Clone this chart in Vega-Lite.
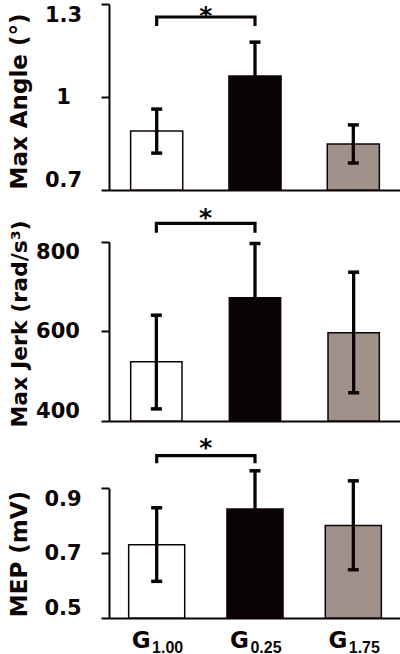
{
  "$schema": "https://vega.github.io/schema/vega-lite/v6.json",
  "autosize": {"type": "pad"},
  "padding": {"left": 7, "top": 0, "right": 0, "bottom": 0},
  "background": "white",
  "spacing": 0,
  "bounds": "flush",
  "config": {
    "view": {"stroke": null},
    "axis": {
      "grid": false,
      "domainColor": "#0d0505",
      "tickColor": "#0d0505",
      "labelColor": "#0d0505",
      "titleColor": "#0d0505",
      "labelFont": "DejaVu Sans",
      "titleFont": "DejaVu Sans",
      "labelFontWeight": "bold",
      "titleFontWeight": "bold"
    }
  },
  "datasets": {
    "angle": [
      {"grp": "1.00", "mean": 0.890, "lo": 0.819, "hi": 0.961},
      {"grp": "0.25", "mean": 1.068, "lo": 0.959, "hi": 1.177},
      {"grp": "1.75", "mean": 0.848, "lo": 0.787, "hi": 0.910}
    ],
    "jerk": [
      {"grp": "1.00", "mean": 532, "lo": 427, "hi": 636},
      {"grp": "0.25", "mean": 675, "lo": 554, "hi": 796},
      {"grp": "1.75", "mean": 597, "lo": 463, "hi": 732}
    ],
    "mep": [
      {"grp": "1.00", "mean": 0.726, "lo": 0.613, "hi": 0.840},
      {"grp": "0.25", "mean": 0.836, "lo": 0.718, "hi": 0.954},
      {"grp": "1.75", "mean": 0.785, "lo": 0.649, "hi": 0.923}
    ],
    "angle_br": [
      {"grp": "1.00", "y": 1.229, "ord": 1},
      {"grp": "1.00", "y": 1.258, "ord": 2},
      {"grp": "0.25", "y": 1.258, "ord": 3},
      {"grp": "0.25", "y": 1.229, "ord": 4}
    ],
    "jerk_br": [
      {"grp": "1.00", "y": 820, "ord": 1},
      {"grp": "1.00", "y": 841, "ord": 2},
      {"grp": "0.25", "y": 841, "ord": 3},
      {"grp": "0.25", "y": 820, "ord": 4}
    ],
    "mep_br": [
      {"grp": "1.00", "y": 0.977, "ord": 1},
      {"grp": "1.00", "y": 1.001, "ord": 2},
      {"grp": "0.25", "y": 1.001, "ord": 3},
      {"grp": "0.25", "y": 0.977, "ord": 4}
    ],
    "angle_star": [{"grp": "1.00", "y": 1.300, "label": "*"}],
    "jerk_star": [{"grp": "1.00", "y": 880, "label": "*"}],
    "mep_star": [{"grp": "1.00", "y": 1.060, "label": "*"}]
  },
  "vconcat": [
    {
      "width": 292,
      "height": 190,
      "layer": [
        {
          "data": {"name": "angle"},
          "mark": {"type": "bar", "stroke": "#0d0505", "strokeWidth": 1.5},
          "encoding": {
            "x": {"field": "grp", "type": "nominal", "scale": {"domain": ["1.00", "0.25", "1.75"], "paddingInner": 0.47, "paddingOuter": 0.22},
                  "axis": {"labels": false, "ticks": false, "title": null, "domainWidth": 2}},
            "y": {"field": "mean", "type": "quantitative", "scale": {"domain": [0.7, 1.3], "range": [190, 4], "nice": false, "zero": false},
                  "axis": {"title": "Max Angle (°)", "values": [0.7, 1, 1.3], "format": "~g", "labelFlush": true, "labelAlign": "center", "labelPadding": 38, "labelFontSize": 21, "labelOverlap": false, "tickSize": 8, "tickWidth": 2, "domainWidth": 2, "titleFontSize": 23, "titleX": -83, "titleY": 101, "titleBaseline": "alphabetic", "titleAngle": -90, "titleAlign": "center"}},
            "y2": {"datum": 0.7},
            "color": {"field": "grp", "type": "nominal", "scale": {"domain": ["1.00", "0.25", "1.75"], "range": ["#ffffff", "#0a0303", "#a0918a"]}, "legend": null}
          }
        },
        {
          "data": {"name": "angle"},
          "mark": {"type": "rule", "strokeWidth": 3.3, "color": "#0a0303"},
          "encoding": {
            "x": {"field": "grp", "type": "nominal", "scale": {"domain": ["1.00", "0.25", "1.75"], "paddingInner": 0.47, "paddingOuter": 0.22}},
            "y": {"field": "lo", "type": "quantitative", "scale": {"domain": [0.7, 1.3], "range": [190, 4], "nice": false, "zero": false}},
            "y2": {"field": "hi"}
          }
        },
        {
          "data": {"name": "angle"},
          "mark": {"type": "tick", "thickness": 3.5, "size": 11, "color": "#0a0303", "opacity": 1},
          "encoding": {
            "x": {"field": "grp", "type": "nominal", "scale": {"domain": ["1.00", "0.25", "1.75"], "paddingInner": 0.47, "paddingOuter": 0.22}},
            "y": {"field": "hi", "type": "quantitative", "scale": {"domain": [0.7, 1.3], "range": [190, 4], "nice": false, "zero": false}}
          }
        },
        {
          "data": {"name": "angle"},
          "mark": {"type": "tick", "thickness": 3.5, "size": 11, "color": "#0a0303", "opacity": 1},
          "encoding": {
            "x": {"field": "grp", "type": "nominal", "scale": {"domain": ["1.00", "0.25", "1.75"], "paddingInner": 0.47, "paddingOuter": 0.22}},
            "y": {"field": "lo", "type": "quantitative", "scale": {"domain": [0.7, 1.3], "range": [190, 4], "nice": false, "zero": false}}
          }
        },
        {
          "data": {"name": "angle_br"},
          "mark": {"type": "line", "strokeWidth": 3.2, "color": "#0a0303", "strokeJoin": "miter", "strokeCap": "butt"},
          "encoding": {
            "x": {"field": "grp", "type": "nominal", "scale": {"domain": ["1.00", "0.25", "1.75"], "paddingInner": 0.47, "paddingOuter": 0.22}},
            "y": {"field": "y", "type": "quantitative", "scale": {"domain": [0.7, 1.3], "range": [190, 4], "nice": false, "zero": false}},
            "order": {"field": "ord", "type": "quantitative"}
          }
        },
        {
          "data": {"name": "angle_star"},
          "mark": {"type": "text", "align": "center", "baseline": "top", "font": "DejaVu Sans", "fontWeight": "bold", "fontSize": 25, "color": "#0a0303"},
          "encoding": {
            "x": {"field": "grp", "type": "nominal", "bandPosition": 1.443, "scale": {"domain": ["1.00", "0.25", "1.75"], "paddingInner": 0.47, "paddingOuter": 0.22}},
            "y": {"field": "y", "type": "quantitative", "scale": {"domain": [0.7, 1.3], "range": [190, 4], "nice": false, "zero": false}},
            "text": {"field": "label"}
          }
        }
      ]
    },
    {
      "width": 292,
      "height": 231,
      "layer": [
        {
          "data": {"name": "jerk"},
          "mark": {"type": "bar", "stroke": "#0d0505", "strokeWidth": 1.5},
          "encoding": {
            "x": {"field": "grp", "type": "nominal", "scale": {"domain": ["1.00", "0.25", "1.75"], "paddingInner": 0.48, "paddingOuter": 0.22},
                  "axis": {"labels": false, "ticks": false, "title": null, "domainWidth": 2}},
            "y": {"field": "mean", "type": "quantitative", "scale": {"domain": [400, 800], "range": [231, 51.7], "nice": false, "zero": false},
                  "axis": {"title": "Max Jerk (rad/s³)", "values": [400, 600, 800], "format": "d", "labelFlush": true, "labelAlign": "center", "labelPadding": 43.5, "labelFontSize": 21, "labelOverlap": false, "tickSize": 8, "tickWidth": 2, "domainWidth": 2, "titleFontSize": 22, "titleX": -83, "titleY": 133.5, "titleBaseline": "alphabetic", "titleAngle": -90, "titleAlign": "center"}},
            "y2": {"datum": 400},
            "color": {"field": "grp", "type": "nominal", "scale": {"domain": ["1.00", "0.25", "1.75"], "range": ["#ffffff", "#0a0303", "#a0918a"]}, "legend": null}
          }
        },
        {
          "data": {"name": "jerk"},
          "mark": {"type": "rule", "strokeWidth": 3.3, "color": "#0a0303"},
          "encoding": {
            "x": {"field": "grp", "type": "nominal", "scale": {"domain": ["1.00", "0.25", "1.75"], "paddingInner": 0.48, "paddingOuter": 0.22}},
            "y": {"field": "lo", "type": "quantitative", "scale": {"domain": [400, 800], "range": [231, 51.7], "nice": false, "zero": false}},
            "y2": {"field": "hi"}
          }
        },
        {
          "data": {"name": "jerk"},
          "mark": {"type": "tick", "thickness": 3.5, "size": 11, "color": "#0a0303", "opacity": 1},
          "encoding": {
            "x": {"field": "grp", "type": "nominal", "scale": {"domain": ["1.00", "0.25", "1.75"], "paddingInner": 0.48, "paddingOuter": 0.22}},
            "y": {"field": "hi", "type": "quantitative", "scale": {"domain": [400, 800], "range": [231, 51.7], "nice": false, "zero": false}}
          }
        },
        {
          "data": {"name": "jerk"},
          "mark": {"type": "tick", "thickness": 3.5, "size": 11, "color": "#0a0303", "opacity": 1},
          "encoding": {
            "x": {"field": "grp", "type": "nominal", "scale": {"domain": ["1.00", "0.25", "1.75"], "paddingInner": 0.48, "paddingOuter": 0.22}},
            "y": {"field": "lo", "type": "quantitative", "scale": {"domain": [400, 800], "range": [231, 51.7], "nice": false, "zero": false}}
          }
        },
        {
          "data": {"name": "jerk_br"},
          "mark": {"type": "line", "strokeWidth": 3.2, "color": "#0a0303", "strokeJoin": "miter", "strokeCap": "butt"},
          "encoding": {
            "x": {"field": "grp", "type": "nominal", "scale": {"domain": ["1.00", "0.25", "1.75"], "paddingInner": 0.48, "paddingOuter": 0.22}},
            "y": {"field": "y", "type": "quantitative", "scale": {"domain": [400, 800], "range": [231, 51.7], "nice": false, "zero": false}},
            "order": {"field": "ord", "type": "quantitative"}
          }
        },
        {
          "data": {"name": "jerk_star"},
          "mark": {"type": "text", "align": "center", "baseline": "top", "font": "DejaVu Sans", "fontWeight": "bold", "fontSize": 25, "color": "#0a0303"},
          "encoding": {
            "x": {"field": "grp", "type": "nominal", "bandPosition": 1.461, "scale": {"domain": ["1.00", "0.25", "1.75"], "paddingInner": 0.48, "paddingOuter": 0.22}},
            "y": {"field": "y", "type": "quantitative", "scale": {"domain": [400, 800], "range": [231, 51.7], "nice": false, "zero": false}},
            "text": {"field": "label"}
          }
        }
      ]
    },
    {
      "width": 292,
      "height": 197,
      "resolve": {"axis": {"x": "independent"}},
      "layer": [
        {
          "data": {"name": "mep"},
          "mark": {"type": "bar", "stroke": "#0d0505", "strokeWidth": 1.5},
          "encoding": {
            "x": {"field": "grp", "type": "nominal", "scale": {"domain": ["1.00", "0.25", "1.75"], "paddingInner": 0.43, "paddingOuter": 0.2},
                  "axis": {"orient": "bottom", "labelExpr": "'G'", "labelFontSize": 23, "labelOffset": -15.5, "labelPadding": 29, "labelBaseline": "alphabetic", "ticks": false, "tickSize": 0, "labelAngle": 0, "title": null, "domainWidth": 2, "labelOverlap": false}},
            "y": {"field": "mean", "type": "quantitative", "scale": {"domain": [0.5, 0.9], "range": [197, 67.3], "nice": false, "zero": false},
                  "axis": {"title": "MEP (mV)", "values": [0.5, 0.7, 0.9], "format": "~g", "labelFlush": true, "labelAlign": "center", "labelPadding": 38.5, "labelFontSize": 21, "labelOverlap": false, "tickSize": 8, "tickWidth": 2, "domainWidth": 2, "titleFontSize": 23, "titleX": -83, "titleY": 132.5, "titleBaseline": "alphabetic", "titleAngle": -90, "titleAlign": "center"}},
            "y2": {"datum": 0.5},
            "color": {"field": "grp", "type": "nominal", "scale": {"domain": ["1.00", "0.25", "1.75"], "range": ["#ffffff", "#0a0303", "#a0918a"]}, "legend": null}
          }
        },
        {
          "data": {"name": "mep"},
          "mark": {"type": "rule", "strokeWidth": 3.3, "color": "#0a0303"},
          "encoding": {
            "x": {"field": "grp", "type": "nominal", "scale": {"domain": ["1.00", "0.25", "1.75"], "paddingInner": 0.43, "paddingOuter": 0.2},
                  "axis": {"orient": "bottom", "labelFont": "Liberation Sans", "labelFontSize": 16, "labelOffset": 11, "labelPadding": 34, "labelBaseline": "alphabetic", "ticks": false, "tickSize": 0, "domain": false, "labelAngle": 0, "title": null, "labelOverlap": false}},
            "y": {"field": "lo", "type": "quantitative", "scale": {"domain": [0.5, 0.9], "range": [197, 67.3], "nice": false, "zero": false}},
            "y2": {"field": "hi"}
          }
        },
        {
          "data": {"name": "mep"},
          "mark": {"type": "tick", "thickness": 3.5, "size": 11, "color": "#0a0303", "opacity": 1},
          "encoding": {
            "x": {"field": "grp", "type": "nominal", "scale": {"domain": ["1.00", "0.25", "1.75"], "paddingInner": 0.43, "paddingOuter": 0.2}, "axis": null},
            "y": {"field": "hi", "type": "quantitative", "scale": {"domain": [0.5, 0.9], "range": [197, 67.3], "nice": false, "zero": false}}
          }
        },
        {
          "data": {"name": "mep"},
          "mark": {"type": "tick", "thickness": 3.5, "size": 11, "color": "#0a0303", "opacity": 1},
          "encoding": {
            "x": {"field": "grp", "type": "nominal", "scale": {"domain": ["1.00", "0.25", "1.75"], "paddingInner": 0.43, "paddingOuter": 0.2}, "axis": null},
            "y": {"field": "lo", "type": "quantitative", "scale": {"domain": [0.5, 0.9], "range": [197, 67.3], "nice": false, "zero": false}}
          }
        },
        {
          "data": {"name": "mep_br"},
          "mark": {"type": "line", "strokeWidth": 3.2, "color": "#0a0303", "strokeJoin": "miter", "strokeCap": "butt"},
          "encoding": {
            "x": {"field": "grp", "type": "nominal", "scale": {"domain": ["1.00", "0.25", "1.75"], "paddingInner": 0.43, "paddingOuter": 0.2}, "axis": null},
            "y": {"field": "y", "type": "quantitative", "scale": {"domain": [0.5, 0.9], "range": [197, 67.3], "nice": false, "zero": false}},
            "order": {"field": "ord", "type": "quantitative"}
          }
        },
        {
          "data": {"name": "mep_star"},
          "mark": {"type": "text", "align": "center", "baseline": "top", "font": "DejaVu Sans", "fontWeight": "bold", "fontSize": 25, "color": "#0a0303"},
          "encoding": {
            "x": {"field": "grp", "type": "nominal", "bandPosition": 1.378, "scale": {"domain": ["1.00", "0.25", "1.75"], "paddingInner": 0.43, "paddingOuter": 0.2}, "axis": null},
            "y": {"field": "y", "type": "quantitative", "scale": {"domain": [0.5, 0.9], "range": [197, 67.3], "nice": false, "zero": false}},
            "text": {"field": "label"}
          }
        }
      ]
    }
  ]
}
